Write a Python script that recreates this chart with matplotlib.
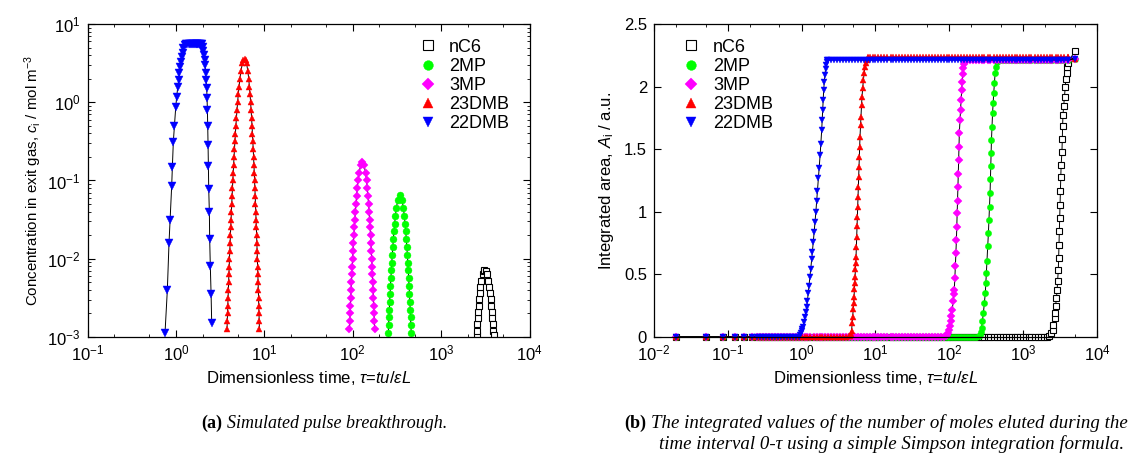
import numpy as np
import matplotlib
matplotlib.use('Agg')
import matplotlib.pyplot as plt
from matplotlib.lines import Line2D
from matplotlib.ticker import LogLocator, NullFormatter, MultipleLocator, FormatStrFormatter

plt.rcParams['font.family'] = ['Liberation Sans', 'DejaVu Sans']
plt.rcParams['mathtext.fontset'] = 'custom'
plt.rcParams['mathtext.rm'] = 'Liberation Sans'
plt.rcParams['mathtext.it'] = 'Liberation Sans:italic'
plt.rcParams['mathtext.bf'] = 'Liberation Sans:bold'

names = ['nC6', '2MP', '3MP', '23DMB', '22DMB']
colors = ['black', '#00ff00', '#ff00ff', '#ff0000', '#0000ff']
markers = ['s', 'o', 'D', '^', 'v']

# ---- (a) pulse: tau and exit concentration for each component ----
tau_nc6 = [2518, 2537, 2564, 2592, 2623, 2657, 2695, 2737, 2787, 2848, 2938, 3018, 3090,
           3177, 3280, 3401, 3490, 3565, 3631, 3692, 3747, 3800, 3850, 3898, 3933]
c_nc6 = [1.05e-3, 1.20e-3, 1.45e-3, 1.74e-3, 2.09e-3, 2.51e-3, 3.02e-3, 3.63e-3, 4.37e-3, 5.25e-3,
         6.31e-3, 6.92e-3, 7.1e-3, 6.92e-3, 6.31e-3, 5.25e-3, 4.37e-3, 3.63e-3, 3.02e-3, 2.51e-3,
         2.09e-3, 1.74e-3, 1.45e-3, 1.20e-3, 1.05e-3]

tau_2mp = [252.3, 254.5, 256.8, 259.2, 261.7, 264.4, 267.1, 270.0, 273.1, 276.4, 280.0, 283.8, 288.0,
           292.6, 297.9, 304.1, 311.8, 322.8, 342.0, 361.4, 373.9, 383.0, 390.6, 397.4, 403.6, 409.3,
           414.7, 419.8, 424.6, 429.4, 433.9, 438.3, 442.6, 446.7, 450.7, 454.7, 458.5]
c_2mp = [1.12e-3, 1.41e-3, 1.78e-3, 2.24e-3, 2.82e-3, 3.55e-3, 4.47e-3, 5.62e-3, 7.08e-3, 8.91e-3,
         0.0112, 0.0141, 0.0178, 0.0224, 0.0282, 0.0355, 0.0447, 0.0562, 0.065, 0.0562, 0.0447,
         0.0355, 0.0282, 0.0224, 0.0178, 0.0141, 0.0112, 8.91e-3, 7.08e-3, 5.62e-3, 4.47e-3,
         3.55e-3, 2.82e-3, 2.24e-3, 1.78e-3, 1.41e-3, 1.12e-3]

tau_3mp = [91.9, 92.7, 93.4, 94.2, 95.0, 95.9, 96.7, 97.7, 98.6, 99.6, 100.7, 101.8, 103.0, 104.3,
           105.7, 107.1, 108.8, 110.6, 112.6, 115.1, 118.3, 123.1, 128.8, 134.4, 139.6, 143.2, 146.2,
           148.7, 151.1, 153.2, 155.2, 157.1, 159.0, 160.7, 162.4, 164.0, 165.6, 167.1, 168.6, 170.1,
           171.5, 172.9, 174.3, 175.7, 176.9]
c_3mp = [1.26e-3, 1.58e-3, 2.0e-3, 2.51e-3, 3.16e-3, 3.98e-3, 5.01e-3, 6.31e-3, 7.94e-3, 0.01,
         0.0126, 0.0158, 0.02, 0.0251, 0.0316, 0.0398, 0.0501, 0.0631, 0.0794, 0.1, 0.126, 0.158,
         0.173, 0.158, 0.126, 0.1, 0.0794, 0.0631, 0.0501, 0.0398, 0.0316, 0.0251, 0.02, 0.0158,
         0.0126, 0.01, 7.94e-3, 6.31e-3, 5.01e-3, 3.98e-3, 3.16e-3, 2.51e-3, 2.0e-3, 1.58e-3, 1.26e-3]

tau_23dmb = [3.784, 3.809, 3.835, 3.862, 3.889, 3.917, 3.946, 3.975, 4.005, 4.036, 4.068, 4.101,
             4.134, 4.169, 4.204, 4.241, 4.280, 4.320, 4.361, 4.403, 4.448, 4.494, 4.544, 4.595,
             4.650, 4.707, 4.769, 4.835, 4.907, 4.985, 5.074, 5.174, 5.291, 5.439, 5.656, 5.813,
             6.0, 6.155, 6.297, 6.506, 6.657, 6.784, 6.894, 6.995, 7.089, 7.176, 7.259, 7.338,
             7.415, 7.488, 7.558, 7.628, 7.693, 7.759, 7.822, 7.885, 7.945, 8.004, 8.063, 8.121,
             8.177, 8.234, 8.289, 8.342, 8.395, 8.449, 8.502, 8.553, 8.604, 8.654, 8.704, 8.754, 8.803]
c_23dmb = [1.26e-3, 1.58e-3, 2.0e-3, 2.51e-3, 3.16e-3, 3.98e-3, 5.01e-3, 6.31e-3, 7.94e-3, 0.01,
           0.0126, 0.0158, 0.02, 0.0251, 0.0316, 0.0398, 0.0501, 0.0631, 0.0794, 0.1, 0.126, 0.158,
           0.2, 0.251, 0.316, 0.398, 0.501, 0.631, 0.794, 1.0, 1.26, 1.58, 2.0, 2.51, 3.16, 3.47,
           3.6, 3.47, 3.16, 2.51, 2.0, 1.58, 1.26, 1.0, 0.794, 0.631, 0.501, 0.398, 0.316, 0.251,
           0.2, 0.158, 0.126, 0.1, 0.0794, 0.0631, 0.0501, 0.0398, 0.0316, 0.0251, 0.02, 0.0158,
           0.0126, 0.01, 7.94e-3, 6.31e-3, 5.01e-3, 3.98e-3, 3.16e-3, 2.51e-3, 2.0e-3, 1.58e-3, 1.26e-3]

tau_22dmb = [0.753, 0.800, 0.835, 0.859, 0.896, 0.912, 0.935, 0.961, 0.995, 1.021, 1.048, 1.076,
             1.094, 1.114, 1.133, 1.164, 1.194, 1.214, 1.268, 1.31, 1.35, 1.39, 1.43, 1.47, 1.51,
             1.55, 1.59, 1.63, 1.67, 1.71, 1.75, 1.79, 1.83, 1.87, 1.91, 1.95, 2.01, 2.05, 2.08,
             2.12, 2.14, 2.17, 2.19, 2.23, 2.25, 2.27, 2.29, 2.31, 2.33, 2.35, 2.39, 2.41, 2.45,
             2.50, 2.54]
c_22dmb = [1.13e-3, 4.0e-3, 0.0157, 0.031, 0.086, 0.150, 0.313, 0.49, 0.86, 1.18, 1.55, 1.92,
           2.39, 2.85, 3.30, 3.82, 4.30, 4.89, 5.4, 5.5, 5.5, 5.5, 5.5, 5.5, 5.5, 5.5, 5.5, 5.5,
           5.5, 5.5, 5.5, 5.5, 5.5, 5.5, 5.5, 5.5, 5.13, 4.56, 4.02, 3.47, 2.99, 2.39, 1.92, 1.51,
           1.12, 0.80, 0.49, 0.284, 0.153, 0.079, 0.039, 0.0178, 0.0080, 0.0035, 0.0015]

# ---- (b) integrated area ----
tau_grid = [0.02, 0.05, 0.086, 0.126, 0.167, 0.21, 0.25, 0.27, 0.30, 0.33, 0.36, 0.40, 0.44, 0.48,
            0.53, 0.58, 0.64, 0.70, 0.77, 0.84, 0.92, 1.0, 1.1, 1.2, 1.3, 1.45, 1.6, 1.75, 1.9,
            2.1, 2.3, 2.5, 2.75, 3.0, 3.3, 3.6, 4.0, 4.4, 4.8, 5.3, 5.8, 6.4, 7.0, 7.7, 8.4, 9.2,
            10, 11, 12, 13, 14.5, 16, 17.5, 19, 21, 23, 25, 27.5, 30, 33, 36, 40, 44, 48, 53, 58,
            64, 70, 77, 84, 92, 100, 110, 120, 130, 145, 160, 175, 190, 210, 230, 250, 275, 300,
            330, 360, 400, 440, 480, 530, 580, 640, 700, 770, 840, 920, 1000, 1100, 1200, 1300,
            1450, 1600, 1750, 1900, 2100, 2300, 2500, 2750, 3000, 3300, 3600, 4000, 4100]

rise_tau_nc6 = [2260, 2390, 2530, 2580, 2670, 2730, 2760, 2830, 2900, 2930, 3000, 3030, 3060, 3100,
                3130, 3170, 3210, 3240, 3280, 3360, 3400, 3430, 3470, 3550, 3640, 3720, 3800, 3900,
                3980, 4120]
rise_a_nc6 = [0.005, 0.032, 0.059, 0.098, 0.152, 0.191, 0.250, 0.311, 0.378, 0.444, 0.532, 0.630,
              0.737, 0.843, 0.947, 1.056, 1.170, 1.277, 1.375, 1.481, 1.580, 1.686, 1.774, 1.846,
              1.920, 1.995, 2.059, 2.112, 2.160, 2.191]

rise_tau_2mp = [250, 259, 266, 274, 282, 290, 299, 308, 313, 318, 325, 333, 339, 345, 351, 357, 361,
                365, 369, 373, 379, 386, 393, 400, 409, 418, 430, 443, 455]
rise_a_2mp = [0.005, 0.019, 0.04, 0.072, 0.13, 0.191, 0.27, 0.351, 0.43, 0.511, 0.61, 0.723, 0.83,
              0.936, 1.04, 1.149, 1.26, 1.362, 1.47, 1.574, 1.68, 1.787, 1.87, 1.947, 2.03, 2.106,
              2.16, 2.199, 2.21]

rise_tau_3mp = [91, 93.1, 96, 98.5, 101, 104, 107, 110, 113, 115, 117, 119, 121, 123, 125, 126.5,
                128, 129.5, 131, 132.5, 134, 135.5, 137, 139.5, 142, 144.5, 147, 149.5, 152, 155.5,
                159, 163, 168]
rise_a_3mp = [0.005, 0.019, 0.035, 0.059, 0.09, 0.13, 0.17, 0.218, 0.29, 0.34, 0.378, 0.47, 0.564,
              0.67, 0.777, 0.88, 0.989, 1.09, 1.20, 1.30, 1.41, 1.52, 1.63, 1.73, 1.81, 1.89, 1.97,
              2.04, 2.10, 2.15, 2.18, 2.20, 2.21]

rise_tau_23dmb = [4.40, 4.55, 4.65, 4.75, 4.85, 4.92, 5.00, 5.07, 5.13, 5.19, 5.24, 5.29, 5.35,
                  5.40, 5.46, 5.52, 5.58, 5.64, 5.69, 5.75, 5.81, 5.87, 5.93, 6.00, 6.06, 6.12,
                  6.18, 6.28, 6.38, 6.48, 6.58, 6.72, 6.86, 7.04, 7.23, 7.42, 7.62, 7.82, 8.02]
rise_a_23dmb = [0.004, 0.01, 0.02, 0.05, 0.11, 0.16, 0.22, 0.27, 0.32, 0.38, 0.43, 0.48, 0.54, 0.59,
                0.64, 0.72, 0.80, 0.89, 0.96, 1.04, 1.12, 1.20, 1.28, 1.36, 1.44, 1.52, 1.60, 1.69,
                1.76, 1.85, 1.92, 1.99, 2.05, 2.11, 2.16, 2.19, 2.21, 2.225, 2.235]

rise_tau_22dmb = [0.95, 0.98, 1.0, 1.02, 1.05, 1.08, 1.11, 1.14, 1.17, 1.20, 1.23, 1.26, 1.30, 1.33,
                  1.37, 1.40, 1.44, 1.48, 1.52, 1.56, 1.60, 1.64, 1.69, 1.73, 1.78, 1.82, 1.87,
                  1.90, 1.93, 1.96, 1.99, 2.03, 2.07, 2.11, 2.15, 2.19, 2.24, 2.30]
rise_a_22dmb = [0.016, 0.03, 0.045, 0.06, 0.082, 0.12, 0.16, 0.20, 0.24, 0.29, 0.35, 0.41, 0.48,
                0.54, 0.62, 0.68, 0.76, 0.84, 0.92, 1.00, 1.09, 1.17, 1.27, 1.35, 1.45, 1.54, 1.65,
                1.73, 1.81, 1.89, 1.97, 2.04, 2.09, 2.14, 2.17, 2.20, 2.21, 2.213]

plateau = [None, 2.215, 2.215, 2.235, 2.213]
tau_end = 5000
a_end = [2.287, 2.22, 2.22, 2.22, 2.22]

pulse_tau = [tau_nc6, tau_2mp, tau_3mp, tau_23dmb, tau_22dmb]
pulse_c = [c_nc6, c_2mp, c_3mp, c_23dmb, c_22dmb]
rise_tau = [rise_tau_nc6, rise_tau_2mp, rise_tau_3mp, rise_tau_23dmb, rise_tau_22dmb]
rise_a = [rise_a_nc6, rise_a_2mp, rise_a_3mp, rise_a_23dmb, rise_a_22dmb]

def build_area(i):
    lo = [t for t in tau_grid if t < rise_tau[i][0]]
    hi = [t for t in tau_grid if t > rise_tau[i][-1]]
    x = lo + rise_tau[i] + hi + [tau_end]
    y = [0.0] * len(lo) + rise_a[i] + [plateau[i]] * len(hi) + [a_end[i]]
    return x, y

def marker_style(i, size):
    if markers[i] == 's':
        return dict(marker='s', ms=size, mfc='white', mec='black', mew=0.8)
    return dict(marker=markers[i], ms=size, mfc=colors[i], mec=colors[i], mew=0.3)

fig = plt.figure(figsize=(11.32, 4.53), dpi=100)
ax1 = fig.add_axes([0.0773, 0.2561, 0.3905, 0.6909])
ax2 = fig.add_axes([0.5777, 0.2561, 0.3913, 0.6909])

size_a = [4.0, 5.0, 4.5, 5.0, 5.5]
for i in range(5):
    ax1.plot(pulse_tau[i], pulse_c[i], '-', color='black', lw=0.7)
    ax1.plot(pulse_tau[i], pulse_c[i], ls='none', **marker_style(i, size_a[i]))

size_b = [4.5, 4.5, 4.0, 4.5, 4.5]
for i in range(5):
    x, y = build_area(i)
    ax2.plot(x, y, '-', color='black', lw=0.7, clip_on=False)
    ax2.plot(x, y, ls='none', clip_on=False, **marker_style(i, size_b[i]))

xlab = r'Dimensionless time, $\tau$=$tu/\varepsilon L$'

ax1.set_xscale('log')
ax1.set_yscale('log')
ax1.set_xlim(1e-1, 1e4)
ax1.set_ylim(1e-3, 1e1)
ax1.xaxis.set_minor_locator(LogLocator(base=10, subs=(2, 5)))
ax1.yaxis.set_minor_locator(LogLocator(base=10, subs=np.arange(2, 10)))
ax1.xaxis.set_minor_formatter(NullFormatter())
ax1.yaxis.set_minor_formatter(NullFormatter())
ax1.set_xlabel(xlab, fontsize=12, labelpad=4)
ax1.set_ylabel(r'Concentration in exit gas, $c_{\mathrm{i}}$ / mol m$^{-3}$', fontsize=10.8, labelpad=2)

ax2.set_xscale('log')
ax2.set_xlim(1e-2, 1e4)
ax2.set_ylim(0, 2.5)
ax2.xaxis.set_minor_locator(LogLocator(base=10, subs=(2, 5)))
ax2.xaxis.set_minor_formatter(NullFormatter())
ax2.yaxis.set_major_locator(MultipleLocator(0.5))
ax2.yaxis.set_major_formatter(FormatStrFormatter('%g'))
ax2.set_xlabel(xlab, fontsize=12, labelpad=4)
ax2.set_ylabel(r'Integrated area, $A_{\mathrm{i}}$ / a.u.', fontsize=12, labelpad=6)

for ax in (ax1, ax2):
    ax.tick_params(which='both', direction='in', top=True, right=True, labelsize=12)
    ax.tick_params(which='major', length=5, width=0.8, pad=5)
    ax.tick_params(which='minor', length=2.5, width=0.6)
    for s in ax.spines.values():
        s.set_linewidth(0.9)

handles = [Line2D([], [], ls='none', **marker_style(i, 7 if markers[i] != 'D' else 6)) for i in range(5)]
leg_kw = dict(loc='upper left', frameon=False, fontsize=13, handlelength=1.0,
              handletextpad=0.7, labelspacing=0.12, borderpad=0.4)
ax1.legend(handles, names, bbox_to_anchor=(0.712, 1.005), **leg_kw)
ax2.legend(handles, names, bbox_to_anchor=(0.027, 1.005), **leg_kw)

serif = ['Liberation Serif', 'DejaVu Serif']
fig.text(222 / 1132, 1 - 423 / 453, '(a)', ha='right', va='center', fontsize=13,
         fontweight='bold', family=serif)
fig.text(227 / 1132, 1 - 423 / 453, 'Simulated pulse breakthrough.', ha='left', va='center',
         fontsize=13, style='italic', family=serif)
fig.text(646 / 1132, 1 - 423 / 453, '(b)', ha='right', va='center', fontsize=13,
         fontweight='bold', family=serif)
fig.text(651 / 1132, 1 - 423 / 453,
         'The integrated values of the number of moles eluted during the',
         ha='left', va='center', fontsize=13.6, style='italic', family=serif)
fig.text(1124 / 1132, 1 - 444 / 453,
         'time interval 0-\u03c4 using a simple Simpson integration formula.',
         ha='right', va='center', fontsize=13.6, style='italic', family=serif)

fig.savefig('out.png', dpi=100)
